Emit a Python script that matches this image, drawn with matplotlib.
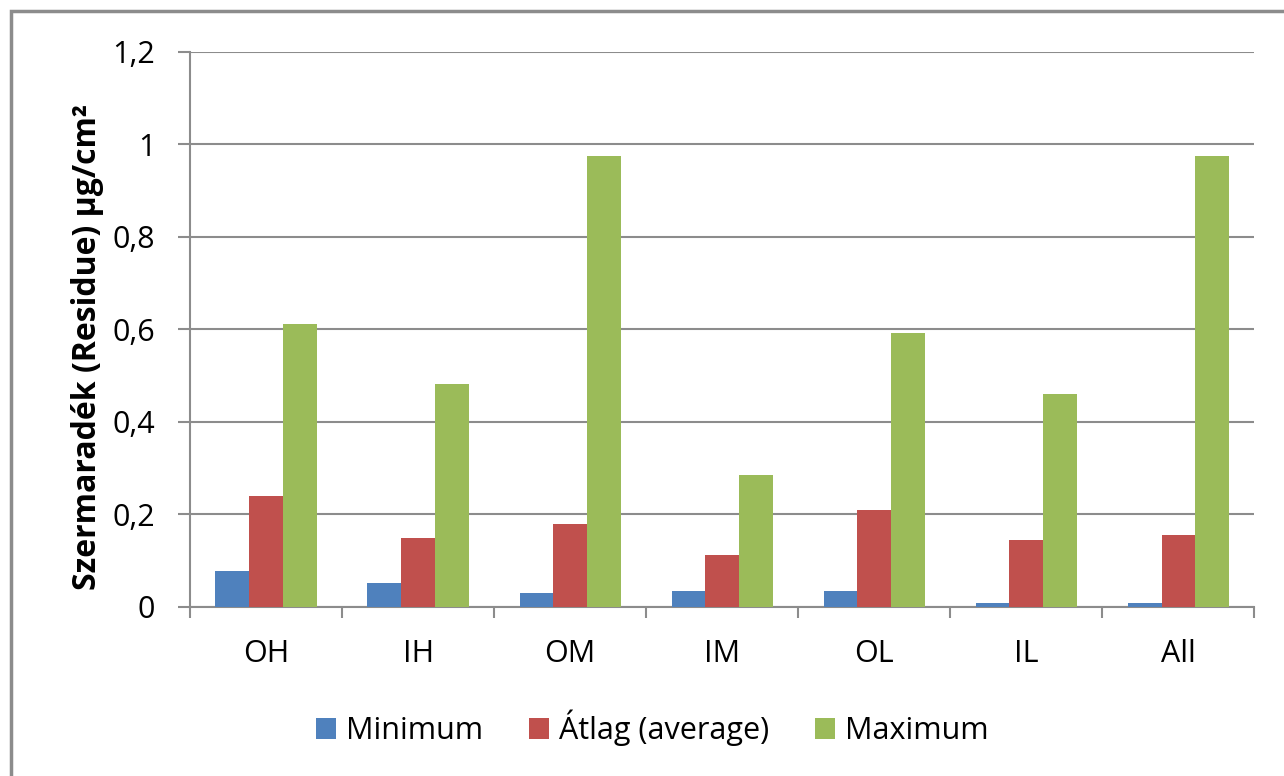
import numpy as np
import matplotlib
matplotlib.use("Agg")
import matplotlib.pyplot as plt
from matplotlib.patches import Rectangle
from matplotlib.ticker import FixedLocator, FuncFormatter, MultipleLocator

# Residue per sample group
categories = ["OH", "IH", "OM", "IM", "OL", "IL", "All"]
minimum = [0.078, 0.052, 0.030, 0.035, 0.035, 0.009, 0.009]
average = [0.240, 0.149, 0.180, 0.112, 0.210, 0.145, 0.156]
maximum = [0.612, 0.482, 0.975, 0.285, 0.592, 0.460, 0.975]
series_names = ["Minimum", "Átlag (average)", "Maximum"]
y_label = "Szermaradék (Residue) µg/cm²"

colors = ["#4F81BD", "#C0504D", "#9BBB59"]
grid_color = "#8C8C8C"

plt.rcParams["font.family"] = ["Open Sans", "DejaVu Sans"]

fig = plt.figure(figsize=(12.84, 7.76), dpi=100)
ax = fig.add_axes([0.148, 0.2178, 0.829, 0.7152])

# Grouped bars, three per category
x = np.arange(len(categories))
bar_w = 1 / 4.5
for i, (vals, name) in enumerate(zip([minimum, average, maximum], series_names)):
    ax.bar(x + (i - 1) * bar_w, vals, width=bar_w, color=colors[i], label=name,
           zorder=3)

ax.set_xlim(-0.5, len(categories) - 0.5)
ax.set_ylim(0, 1.2)

# Y axis with decimal commas
ax.yaxis.set_major_locator(MultipleLocator(0.2))
ax.yaxis.set_major_formatter(
    FuncFormatter(lambda v, p: f"{v:.1f}".rstrip("0").rstrip(".").replace(".", ","))
)
ax.grid(axis="y", color=grid_color, linewidth=1.5, zorder=0)
ax.tick_params(axis="y", which="major", direction="out", length=9, width=1.5,
               color=grid_color, pad=16, labelsize=22)

# Category boundaries as ticks, names centred between them
ax.xaxis.set_major_locator(FixedLocator(np.arange(len(categories) + 1) - 0.5))
ax.xaxis.set_minor_locator(FixedLocator(x))
ax.set_xticklabels([], minor=False)
ax.set_xticklabels(categories, minor=True)
ax.tick_params(axis="x", which="major", direction="out", length=8, width=1.5,
               color=grid_color)
ax.tick_params(axis="x", which="minor", length=0, pad=23, labelsize=22)

for side in ["top", "right"]:
    ax.spines[side].set_visible(False)
for side in ["left", "bottom"]:
    ax.spines[side].set_color(grid_color)
    ax.spines[side].set_linewidth(1.5)

ax.set_ylabel(y_label, fontsize=23, fontweight="bold")
ax.yaxis.set_label_coords(-0.081, 0.468)

leg = fig.legend(loc="center", bbox_to_anchor=(0.508, 0.062), ncol=3, frameon=False,
                 fontsize=22, handlelength=0.65, handleheight=0.65,
                 handletextpad=0.33, columnspacing=1.5)

# Chart area border
fig.patches.append(Rectangle((11 / 1284, -0.1), 1.2, 1 - 11 / 776 + 0.1,
                             transform=fig.transFigure, fill=False,
                             edgecolor="#8C8C8C", linewidth=2.5))

fig.savefig("out.png", dpi=100)
